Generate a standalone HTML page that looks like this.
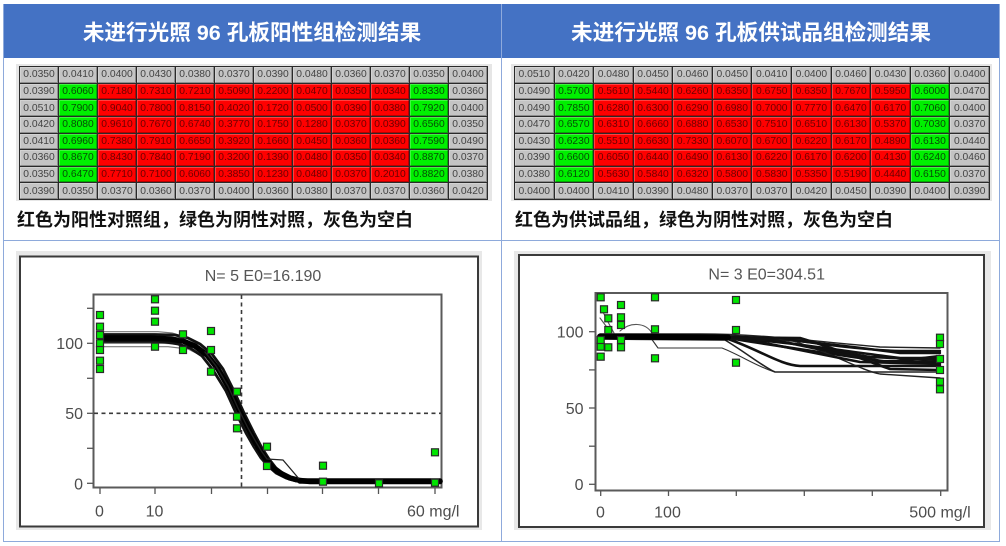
<!DOCTYPE html>
<html><head><meta charset="utf-8">
<style>
*{margin:0;padding:0;box-sizing:border-box}
html,body{width:1006px;height:546px;background:#fff;overflow:hidden;position:relative;font-family:"Liberation Sans","Noto Sans CJK SC",sans-serif}
.abs{position:absolute}
.hdr{position:absolute;top:4px;height:54px;background:#4472c4;color:#fff;font-weight:bold;font-size:21.6px;display:flex;align-items:center;justify-content:center;white-space:nowrap;font-family:"Liberation Sans","Noto Sans CJK SC",sans-serif}
.ln{position:absolute;background:#8eaadb}
.bk{position:absolute;background:#e6e6e6}
.tbl{position:absolute;display:grid;background:#2a2a2a;padding:1px;gap:1px;grid-template-rows:repeat(8,1fr)}
.tbl div{font-size:10.3px;display:flex;align-items:center;justify-content:center;box-shadow:inset -1px -1px 0 rgba(0,0,0,.28),inset 1px 1px 0 rgba(255,255,255,.25);font-family:"Liberation Sans",sans-serif}
.g{background:#c4c4c4;color:#444}
.r{background:#ff0000;color:#6e0000}
.n{background:#00f000;color:#064e06}
.cap{position:absolute;top:209px;height:22px;line-height:22px;font-size:18px;font-weight:bold;color:#111;white-space:nowrap;font-family:"Liberation Sans","Noto Sans CJK SC",sans-serif}
</style></head><body>

<div class="hdr" style="left:3px;width:498px">未进行光照 96 孔板阳性组检测结果</div>
<div class="hdr" style="left:502px;width:498px">未进行光照 96 孔板供试品组检测结果</div>

<div class="ln" style="left:3px;top:4px;width:1px;height:538px"></div>
<div class="ln" style="left:501px;top:4px;width:1px;height:538px;background:#8faadc"></div>
<div class="ln" style="left:999px;top:4px;width:1px;height:538px"></div>
<div class="ln" style="left:3px;top:240px;width:997px;height:1px"></div>
<div class="ln" style="left:3px;top:541px;width:997px;height:1px"></div>

<div class="bk" style="left:16px;top:64px;width:476px;height:137px"></div>
<div class="bk" style="left:511px;top:64px;width:481px;height:137px"></div>

<div class="tbl" style="left:19px;top:66px;width:469px;height:134px;grid-template-columns:repeat(12,1fr)">
<div class="g">0.0350</div><div class="g">0.0410</div><div class="g">0.0400</div><div class="g">0.0430</div><div class="g">0.0380</div><div class="g">0.0370</div><div class="g">0.0390</div><div class="g">0.0480</div><div class="g">0.0360</div><div class="g">0.0370</div><div class="g">0.0350</div><div class="g">0.0400</div>
<div class="g">0.0390</div><div class="n">0.6060</div><div class="r">0.7180</div><div class="r">0.7310</div><div class="r">0.7210</div><div class="r">0.5090</div><div class="r">0.2200</div><div class="r">0.0470</div><div class="r">0.0350</div><div class="r">0.0340</div><div class="n">0.8330</div><div class="g">0.0360</div>
<div class="g">0.0510</div><div class="n">0.7900</div><div class="r">0.9040</div><div class="r">0.7800</div><div class="r">0.8150</div><div class="r">0.4020</div><div class="r">0.1720</div><div class="r">0.0500</div><div class="r">0.0390</div><div class="r">0.0380</div><div class="n">0.7920</div><div class="g">0.0400</div>
<div class="g">0.0420</div><div class="n">0.8080</div><div class="r">0.9610</div><div class="r">0.7670</div><div class="r">0.6740</div><div class="r">0.3770</div><div class="r">0.1750</div><div class="r">0.1280</div><div class="r">0.0370</div><div class="r">0.0390</div><div class="n">0.6560</div><div class="g">0.0350</div>
<div class="g">0.0410</div><div class="n">0.6960</div><div class="r">0.7380</div><div class="r">0.7910</div><div class="r">0.6650</div><div class="r">0.3920</div><div class="r">0.1660</div><div class="r">0.0450</div><div class="r">0.0360</div><div class="r">0.0360</div><div class="n">0.7590</div><div class="g">0.0490</div>
<div class="g">0.0360</div><div class="n">0.8670</div><div class="r">0.8430</div><div class="r">0.7840</div><div class="r">0.7190</div><div class="r">0.3200</div><div class="r">0.1390</div><div class="r">0.0480</div><div class="r">0.0350</div><div class="r">0.0340</div><div class="n">0.8870</div><div class="g">0.0370</div>
<div class="g">0.0350</div><div class="n">0.6470</div><div class="r">0.7710</div><div class="r">0.7100</div><div class="r">0.6060</div><div class="r">0.3850</div><div class="r">0.1230</div><div class="r">0.0480</div><div class="r">0.0370</div><div class="r">0.2010</div><div class="n">0.8820</div><div class="g">0.0380</div>
<div class="g">0.0390</div><div class="g">0.0350</div><div class="g">0.0370</div><div class="g">0.0360</div><div class="g">0.0370</div><div class="g">0.0400</div><div class="g">0.0360</div><div class="g">0.0380</div><div class="g">0.0370</div><div class="g">0.0370</div><div class="g">0.0360</div><div class="g">0.0420</div>
</div>

<div class="tbl" style="left:514px;top:66px;width:476px;height:134px;grid-template-columns:repeat(12,1fr)">
<div class="g">0.0510</div><div class="g">0.0420</div><div class="g">0.0480</div><div class="g">0.0450</div><div class="g">0.0460</div><div class="g">0.0450</div><div class="g">0.0410</div><div class="g">0.0400</div><div class="g">0.0460</div><div class="g">0.0430</div><div class="g">0.0360</div><div class="g">0.0400</div>
<div class="g">0.0490</div><div class="n">0.5700</div><div class="r">0.5610</div><div class="r">0.5440</div><div class="r">0.6260</div><div class="r">0.6350</div><div class="r">0.6750</div><div class="r">0.6350</div><div class="r">0.7670</div><div class="r">0.5950</div><div class="n">0.6000</div><div class="g">0.0470</div>
<div class="g">0.0490</div><div class="n">0.7850</div><div class="r">0.6280</div><div class="r">0.6300</div><div class="r">0.6290</div><div class="r">0.6980</div><div class="r">0.7000</div><div class="r">0.7770</div><div class="r">0.6470</div><div class="r">0.6170</div><div class="n">0.7060</div><div class="g">0.0400</div>
<div class="g">0.0470</div><div class="n">0.6570</div><div class="r">0.6310</div><div class="r">0.6660</div><div class="r">0.6880</div><div class="r">0.6530</div><div class="r">0.7510</div><div class="r">0.6510</div><div class="r">0.6130</div><div class="r">0.5370</div><div class="n">0.7030</div><div class="g">0.0370</div>
<div class="g">0.0430</div><div class="n">0.6230</div><div class="r">0.5510</div><div class="r">0.6630</div><div class="r">0.7330</div><div class="r">0.6070</div><div class="r">0.6700</div><div class="r">0.6220</div><div class="r">0.6170</div><div class="r">0.4890</div><div class="n">0.6130</div><div class="g">0.0440</div>
<div class="g">0.0390</div><div class="n">0.6600</div><div class="r">0.6050</div><div class="r">0.6440</div><div class="r">0.6490</div><div class="r">0.6130</div><div class="r">0.6220</div><div class="r">0.6170</div><div class="r">0.6200</div><div class="r">0.4130</div><div class="n">0.6240</div><div class="g">0.0460</div>
<div class="g">0.0380</div><div class="n">0.6120</div><div class="r">0.5630</div><div class="r">0.5840</div><div class="r">0.6320</div><div class="r">0.5800</div><div class="r">0.5830</div><div class="r">0.5350</div><div class="r">0.5190</div><div class="r">0.4440</div><div class="n">0.6150</div><div class="g">0.0370</div>
<div class="g">0.0400</div><div class="g">0.0400</div><div class="g">0.0410</div><div class="g">0.0390</div><div class="g">0.0480</div><div class="g">0.0370</div><div class="g">0.0370</div><div class="g">0.0420</div><div class="g">0.0450</div><div class="g">0.0390</div><div class="g">0.0400</div><div class="g">0.0390</div>
</div>

<div class="cap" style="left:17px">红色为阳性对照组，绿色为阴性对照，灰色为空白</div>
<div class="cap" style="left:515px">红色为供试品组，绿色为阴性对照，灰色为空白</div>

<svg class="abs" style="left:0;top:0" width="1006" height="546" viewBox="0 0 1006 546" xmlns="http://www.w3.org/2000/svg" font-family="Liberation Sans, sans-serif">
<!-- LEFT CHART -->
<rect x="16" y="251" width="466" height="279" fill="#e8e8e8"/>
<rect x="20" y="256.5" width="458" height="270" fill="#fff" stroke="#3a3a3a" stroke-width="2"/>
<text x="263" y="281" font-size="16" fill="#555" text-anchor="middle">N= 5 E0=16.190</text>
<rect x="93.5" y="294.5" width="348" height="193" fill="none" stroke="#5a5a5a" stroke-width="2"/>
<g stroke="#555" stroke-width="1.3">
<line x1="87" y1="308.3" x2="93" y2="308.3"/><line x1="87" y1="343.3" x2="93" y2="343.3"/><line x1="87" y1="378.3" x2="93" y2="378.3"/><line x1="87" y1="413.3" x2="93" y2="413.3"/><line x1="87" y1="448.3" x2="93" y2="448.3"/><line x1="87" y1="483.3" x2="93" y2="483.3"/>
<line x1="100" y1="488" x2="100" y2="494"/><line x1="155" y1="488" x2="155" y2="494"/><line x1="211.5" y1="488" x2="211.5" y2="494"/><line x1="267.5" y1="488" x2="267.5" y2="494"/><line x1="322.5" y1="488" x2="322.5" y2="494"/><line x1="378.5" y1="488" x2="378.5" y2="494"/><line x1="435" y1="488" x2="435" y2="494"/>
</g>
<g font-size="16" fill="#4d4d4d">
<text x="83" y="349" text-anchor="end">100</text>
<text x="83" y="419" text-anchor="end">50</text>
<text x="83" y="489.5" text-anchor="end">0</text>
<text x="99.5" y="516.5" text-anchor="middle">0</text>
<text x="154.5" y="516.5" text-anchor="middle">10</text>
<text x="407" y="516.5">60 mg/l</text>
</g>
<g stroke="#3a3a3a" stroke-width="1.6" stroke-dasharray="4,3.5">
<line x1="94" y1="413.3" x2="441" y2="413.3"/>
<line x1="241.5" y1="295" x2="241.5" y2="487"/>
</g>
<g fill="none" stroke-linejoin="round" stroke-linecap="round">
<polyline stroke="#777" stroke-width="1.2" points="100,331.7 158,331.7 172,333 185,337 196,343"/>
<polyline stroke="#777" stroke-width="1.2" points="100,346.7 168,346.7 188,349 200,355"/>
<polyline stroke="#777" stroke-width="1.2" points="100,343.3 162,343.3 180,344 192,348"/>
<polyline stroke="#111" stroke-width="2.8" points="100,334.5 155,334.5 175,335 188,338 200,344 212,354 223,369 234,391 244,413 254,433 262,448 269,459 276,468 284,474 294,479 304,481 440,481"/>
<polyline stroke="#111" stroke-width="2.8" points="100,341.5 150,341.5 165,342 178,344 190,348 202,356 213,370 226,391 236,413 246,433 254,447 261,458 268,466 276,473 286,478 296,481 440,481.5"/>
<polyline stroke="#000" stroke-width="5.5" points="100,338 150,338 170,339 183,341 195,346 207,355 218,369 230,390 240,412 250,432 258,447 265,458 272,467 280,473 290,478 300,480.5 310,481.5 440,481.5"/>
<polyline stroke="#222" stroke-width="1.3" points="205,352 216,366 228,386 238,408 248,428 256,442 262,452 267,459 283,460 300,480"/>
<polyline stroke="#000" stroke-width="5.5" points="300,481 440,481"/>
</g>
<g fill="#00e600" stroke="#2a2a2a" stroke-width="1.2">
<rect x="96.5" y="311.5" width="7" height="7"/><rect x="96.5" y="323.2" width="7" height="7"/><rect x="96.5" y="331.5" width="7" height="7"/><rect x="96.5" y="339.8" width="7" height="7"/><rect x="96.5" y="346.5" width="7" height="7"/><rect x="96.5" y="357.2" width="7" height="7"/><rect x="96.5" y="365.5" width="7" height="7"/>
<rect x="151.5" y="295.8" width="7" height="7"/><rect x="151.5" y="307.2" width="7" height="7"/><rect x="151.5" y="318.2" width="7" height="7"/><rect x="151.5" y="343.2" width="7" height="7"/>
<rect x="179.5" y="330.8" width="7" height="7"/><rect x="179.5" y="346.5" width="7" height="7"/>
<rect x="207.5" y="327.5" width="7" height="7"/><rect x="207.5" y="346.5" width="7" height="7"/><rect x="207.5" y="368.2" width="7" height="7"/>
<rect x="233.5" y="388.2" width="7" height="7"/><rect x="233.5" y="413.2" width="7" height="7"/><rect x="233.5" y="424.8" width="7" height="7"/>
<rect x="263.5" y="443.2" width="7" height="7"/><rect x="263.5" y="462.5" width="7" height="7"/>
<rect x="319.5" y="462.2" width="7" height="7"/><rect x="319.5" y="478.2" width="7" height="7"/>
<rect x="375.5" y="479.8" width="7" height="7"/>
<rect x="431.5" y="448.8" width="7" height="7"/><rect x="431.5" y="479.2" width="7" height="7"/>
</g>

<!-- RIGHT CHART -->
<rect x="514" y="251" width="477" height="279" fill="#e8e8e8"/>
<rect x="519" y="255" width="465" height="272" fill="#fff" stroke="#3a3a3a" stroke-width="2"/>
<text x="766.7" y="279.5" font-size="16" fill="#555" text-anchor="middle">N= 3 E0=304.51</text>
<rect x="595.5" y="293" width="352" height="197.5" fill="none" stroke="#5a5a5a" stroke-width="2"/>
<g stroke="#555" stroke-width="1.3">
<line x1="589" y1="331.7" x2="595" y2="331.7"/><line x1="589" y1="369.9" x2="595" y2="369.9"/><line x1="589" y1="408" x2="595" y2="408"/><line x1="589" y1="446.2" x2="595" y2="446.2"/><line x1="589" y1="484.3" x2="595" y2="484.3"/>
<line x1="600.7" y1="490.5" x2="600.7" y2="496"/><line x1="668.5" y1="490.5" x2="668.5" y2="496"/><line x1="736.3" y1="490.5" x2="736.3" y2="496"/><line x1="804.3" y1="490.5" x2="804.3" y2="496"/><line x1="872.3" y1="490.5" x2="872.3" y2="496"/><line x1="940.7" y1="490.5" x2="940.7" y2="496"/>
</g>
<g font-size="16" fill="#4d4d4d">
<text x="583.5" y="337.5" text-anchor="end">100</text>
<text x="583.5" y="414" text-anchor="end">50</text>
<text x="583.5" y="490" text-anchor="end">0</text>
<text x="600.5" y="517.5" text-anchor="middle">0</text>
<text x="667.5" y="517.5" text-anchor="middle">100</text>
<text x="909.3" y="517.5">500 mg/l</text>
</g>
<g fill="none" stroke-linejoin="round" stroke-linecap="round">
<path stroke="#555" stroke-width="1.1" d="M600,318 L606,326 L612,334 M603,312 L608,322 L614,333 M620,331 C630,322 645,322 652,333"/>
<path stroke="#333" stroke-width="1.1" d="M648,334 L658,348 L722,348 C740,355 760,368 775,372"/>
<path stroke="#222" stroke-width="1.4" d="M600,334 L700,334 C760,334 800,340 880,347 L940,348"/>
<path stroke="#111" stroke-width="2.4" d="M600,335 L720,336 C780,338 840,345 900,353 L940,353"/>
<path stroke="#111" stroke-width="2.6" d="M600,336 L725,337 C790,342 850,352 900,358 L940,358"/>
<path stroke="#111" stroke-width="2.6" d="M600,337 L728,338 C770,345 840,355 880,361 L940,362"/>
<path stroke="#111" stroke-width="2.6" d="M600,338 L728,339 C760,350 780,365 800,366 L940,366"/>
<path stroke="#222" stroke-width="1.6" d="M600,339 L725,340 C745,352 765,368 775,372 L940,372"/>
<path stroke="#222" stroke-width="1.4" d="M600,337 L790,340 C830,352 860,370 880,374 L940,378"/>
<path stroke="#111" stroke-width="2.6" d="M600,336 L800,338 C840,350 870,362 890,369 L940,370"/>
<path stroke="#111" stroke-width="2.6" d="M600,336 L760,338 C800,345 840,352 870,357 L940,360"/>
<path stroke="#111" stroke-width="2.6" d="M600,336 L740,338 C790,348 830,356 860,362 L940,364"/>
<path stroke="#111" stroke-width="2.4" d="M600,336 L780,338 C830,346 870,350 900,351 L940,351"/>
<path stroke="#111" stroke-width="2.4" d="M600,336 L770,339 C820,350 860,358 890,362 L940,356"/>
<path stroke="#000" stroke-width="6" d="M600,336.5 L728,337.5"/>
</g>
<g fill="#00e600" stroke="#2a2a2a" stroke-width="1.2">
<rect x="597.2" y="293.8" width="7" height="7"/><rect x="597.2" y="343.2" width="7" height="7"/><rect x="597.2" y="353.2" width="7" height="7"/><rect x="597.2" y="336.5" width="7" height="7"/>
<rect x="600.5" y="305.8" width="7" height="7"/>
<rect x="604.8" y="314.8" width="7" height="7"/><rect x="604.8" y="326.5" width="7" height="7"/><rect x="604.8" y="343.8" width="7" height="7"/>
<rect x="617.5" y="301.5" width="7" height="7"/><rect x="617.5" y="313.8" width="7" height="7"/><rect x="617.5" y="321.5" width="7" height="7"/><rect x="617.5" y="336.5" width="7" height="7"/><rect x="617.5" y="343.8" width="7" height="7"/>
<rect x="651.5" y="293.8" width="7" height="7"/><rect x="651.5" y="325.8" width="7" height="7"/><rect x="651.5" y="354.8" width="7" height="7"/>
<rect x="732.5" y="296.5" width="7" height="7"/><rect x="732.5" y="326.5" width="7" height="7"/><rect x="732.5" y="359.2" width="7" height="7"/>
<rect x="936.5" y="334.2" width="7" height="7"/><rect x="936.5" y="340.5" width="7" height="7"/><rect x="936.5" y="355.5" width="7" height="7"/><rect x="936.5" y="366.5" width="7" height="7"/><rect x="936.5" y="378.2" width="7" height="7"/><rect x="936.5" y="385.8" width="7" height="7"/>
</g>
</svg>
</body></html>
